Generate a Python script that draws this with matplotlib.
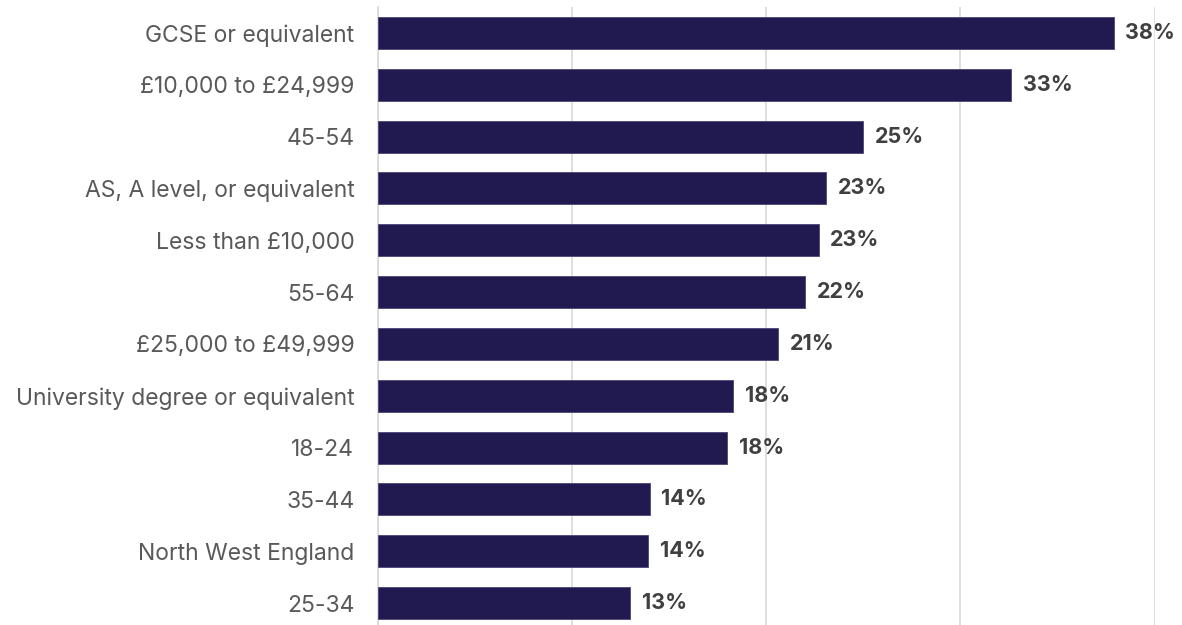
import matplotlib.pyplot as plt
from matplotlib.ticker import MultipleLocator

# Share of respondents by group (%), top to bottom
categories = [
    "GCSE or equivalent",
    "£10,000 to £24,999",
    "45-54",
    "AS, A level, or equivalent",
    "Less than £10,000",
    "55-64",
    "£25,000 to £49,999",
    "University degree or equivalent",
    "18-24",
    "35-44",
    "North West England",
    "25-34",
]
values = [37.9, 32.6, 25.0, 23.1, 22.7, 22.0, 20.6, 18.3, 18.0, 14.0, 13.9, 13.0]

bar_color = "#201a50"
plt.rcParams["font.family"] = ["Inter", "DejaVu Sans"]

fig = plt.figure(figsize=(11.82, 6.25), dpi=100)
ax = fig.add_axes([378 / 1182, -4 / 625, (1154 - 378) / 1182 + 0.0005, 622 / 625])

y = list(range(len(categories)))
bars = ax.barh(y, values, height=0.62, color=bar_color, edgecolor="#4a4578",
               linewidth=0.6, zorder=3)

for rect, v in zip(bars, values):
    ax.text(rect.get_width() + 0.6, rect.get_y() + rect.get_height() / 2,
            f"{v:.0f}%", va="center", ha="left", fontsize=15.5,
            fontweight="bold", color="#404040")

ax.set_yticks(y)
ax.set_yticklabels(categories, fontsize=16.5, color="#595959")
ax.set_ylim(len(categories) - 0.5, -0.5)
ax.set_xlim(0, 40)
ax.xaxis.set_major_locator(MultipleLocator(10))
ax.set_xticklabels([])
ax.tick_params(axis="both", length=0)
ax.tick_params(axis="y", pad=17)
ax.grid(axis="x", color="#d9d9d9", linewidth=1.2, zorder=0)
for side in ["top", "right", "bottom"]:
    ax.spines[side].set_visible(False)
ax.spines["left"].set_color("#d9d9d9")
ax.spines["left"].set_linewidth(1.2)

fig.savefig("out.png", dpi=100)
